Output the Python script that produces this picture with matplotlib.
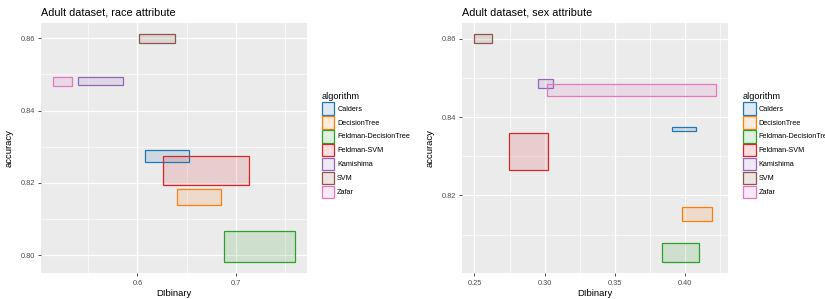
import numpy as np
import matplotlib.pyplot as plt
from matplotlib.patches import Rectangle, Patch
from matplotlib.colors import to_rgb
from matplotlib.ticker import MultipleLocator

plt.rcParams['font.family'] = ['Liberation Sans', 'DejaVu Sans']

algorithms = ['Calders', 'DecisionTree', 'Feldman-DecisionTree', 'Feldman-SVM',
              'Kamishima', 'SVM', 'Zafar']
colors = ['#1f77b4', '#ff7f0e', '#2ca02c', '#d62728', '#9467bd', '#8c564b', '#e377c2']

# race attribute: DIbinary range and accuracy range per algorithm
race_xmin = [0.608, 0.640, 0.688, 0.626, 0.539, 0.602, 0.514]
race_xmax = [0.653, 0.685, 0.7605, 0.714, 0.585, 0.638, 0.533]
race_ymin = [0.8257, 0.8138, 0.7982, 0.8194, 0.8472, 0.8587, 0.8469]
race_ymax = [0.8291, 0.8183, 0.8067, 0.8274, 0.8494, 0.8611, 0.8493]

# sex attribute
sex_xmin = [0.3908, 0.3975, 0.3832, 0.2749, 0.2950, 0.2500, 0.3017]
sex_xmax = [0.4074, 0.4190, 0.4102, 0.3023, 0.3062, 0.2624, 0.4221]
sex_ymin = [0.8365, 0.8134, 0.8030, 0.8265, 0.8475, 0.8589, 0.8453]
sex_ymax = [0.8375, 0.8170, 0.8079, 0.8360, 0.8497, 0.8612, 0.8485]

panels = [
    ('Adult dataset, race attribute', race_xmin, race_xmax, race_ymin, race_ymax, 0.1, 0.02),
    ('Adult dataset, sex attribute', sex_xmin, sex_xmax, sex_ymin, sex_ymax, 0.05, 0.02),
]

fig = plt.figure(figsize=(8.25, 2.99), dpi=100)
lefts = [41 / 825, 462.3 / 825]
W, H = 266 / 825, 250.5 / 299
B = 1 - 273.3 / 299

for (title, x0, x1, y0, y1, xstep, ystep), left in zip(panels, lefts):
    ax = fig.add_axes([left, B, W, H])
    ax.set_facecolor('#EBEBEB')
    for a, b, c, d, col in zip(x0, x1, y0, y1, colors):
        ax.add_patch(Rectangle((a, c), b - a, d - c, facecolor=col, alpha=0.15,
                               edgecolor='none', zorder=3))
        ax.add_patch(Rectangle((a, c), b - a, d - c, facecolor='none',
                               edgecolor=col, linewidth=0.9, zorder=4))
    xr = max(x1) - min(x0)
    yr = max(y1) - min(y0)
    ax.set_xlim(min(x0) - 0.05 * xr, max(x1) + 0.05 * xr)
    ax.set_ylim(min(y0) - 0.05 * yr, max(y1) + 0.05 * yr)
    ax.xaxis.set_major_locator(MultipleLocator(xstep))
    ax.xaxis.set_minor_locator(MultipleLocator(xstep / 2))
    ax.yaxis.set_major_locator(MultipleLocator(ystep))
    ax.yaxis.set_minor_locator(MultipleLocator(ystep / 2))
    if xstep == 0.1:
        ax.xaxis.set_major_formatter(lambda v, p: f'{v:.1f}')
    else:
        ax.xaxis.set_major_formatter(lambda v, p: f'{v:.2f}')
    ax.yaxis.set_major_formatter(lambda v, p: f'{v:.2f}')
    ax.grid(which='major', color='white', linewidth=0.9, zorder=0)
    ax.grid(which='minor', color='white', linewidth=0.45, zorder=0)
    ax.set_axisbelow(True)
    for s in ax.spines.values():
        s.set_visible(False)
    ax.tick_params(which='major', length=2.5, width=0.6, color='#333333',
                   labelsize=5.3, labelcolor='#4D4D4D', pad=2)
    ax.tick_params(which='minor', length=0)
    ax.set_xlabel('DIbinary', fontsize=6.8, labelpad=2)
    ax.set_ylabel('accuracy', fontsize=6.8, labelpad=5)
    ax.set_title(title, fontsize=7.8, loc='left', pad=5)

    handles = [Patch(facecolor=(*to_rgb(c), 0.15), edgecolor=c, linewidth=0.9)
               for c in colors]
    leg = ax.legend(handles, algorithms, title='algorithm', loc='upper left',
                    bbox_to_anchor=(1.055, 0.725), frameon=False, fontsize=5.2,
                    title_fontsize=6.6, handlelength=1.75, handleheight=2.3,
                    labelspacing=0.19, handletextpad=0.4, borderaxespad=0,
                    borderpad=0)
    leg._legend_box.align = 'left'

fig.savefig('out.png', dpi=100)
